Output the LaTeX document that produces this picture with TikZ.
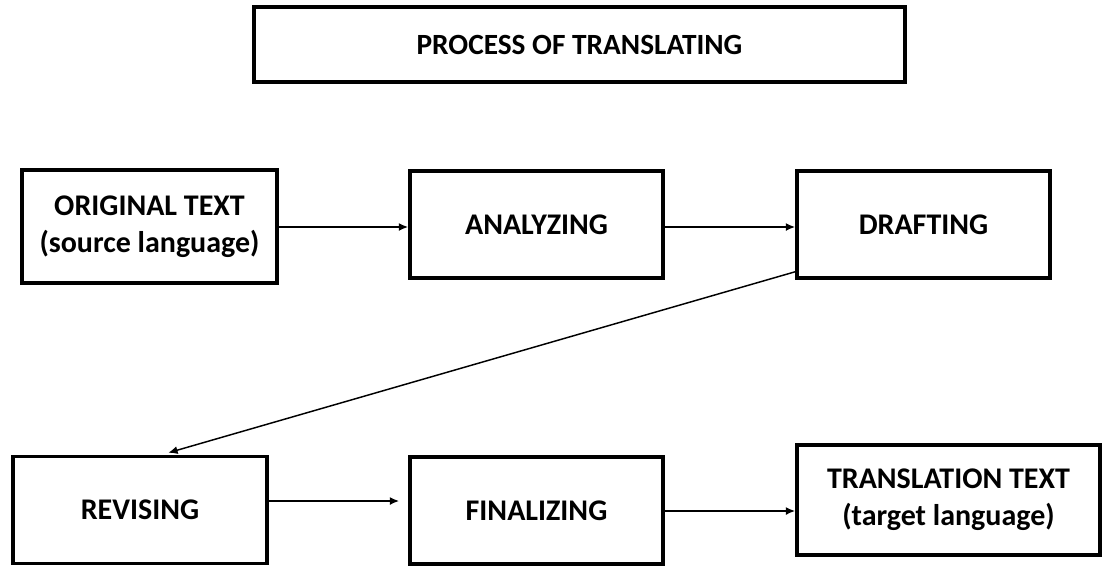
\documentclass[tikz,border=0pt]{standalone}
\usepackage{fontspec}
\setmainfont{Carlito}
\usetikzlibrary{arrows.meta,calc}
\begin{document}
\begin{tikzpicture}[x=0.75pt,y=-0.75pt,
  box/.style={draw=black,line width=2.6pt,rectangle,inner sep=0pt,align=center,
    font=\bfseries\fontsize{22.5}{28}\selectfont},
  conn/.style={line width=1.5pt,-{Latex[length=7pt,width=6pt]}},
  thinconn/.style={line width=1.1pt,-{Latex[length=7pt,width=6pt]}}]
\path[use as bounding box,fill=white] (0,0) rectangle (1105,565);
\node[box,font=\bfseries\fontsize{22}{26}\selectfont,minimum width=651*0.75pt,minimum height=75*0.75pt] (title) at (579.5,44.5) {PROCESS OF TRANSLATING};
\node[box,minimum width=255*0.75pt,minimum height=113*0.75pt] (orig) at (149.5,226.5) {ORIGINAL TEXT\\(source language)};
\node[box,minimum width=253*0.75pt,minimum height=107*0.75pt] (anal) at (536.5,224.5) {ANALYZING};
\node[box,minimum width=253*0.75pt,minimum height=107*0.75pt] (draft) at (923.5,224.5) {DRAFTING};
\node[box,minimum width=254*0.75pt,minimum height=107*0.75pt] (rev) at (140,510) {REVISING};
\node[box,minimum width=253*0.75pt,minimum height=107*0.75pt] (fin) at (536.5,510.5) {FINALIZING};
\node[box,minimum width=303*0.75pt,minimum height=110*0.75pt] (trans) at (948.5,500) {TRANSLATION TEXT\\(target language)};
\coordinate (a1s) at (orig.east |- 0,227);
\coordinate (a1e) at (anal.west |- 0,227);
\draw[conn] (a1s) -- (a1e);
\coordinate (a2s) at (anal.east |- 0,227);
\coordinate (a2e) at (draft.west |- 0,227);
\draw[conn] (a2s) -- (a2e);
\coordinate (dgs) at ($(draft.south west)+(0,-8)$);
\coordinate (dge) at ($(rev.north west)+(157,-2)$);
\draw[thinconn] (dgs) -- (dge);
\coordinate (a3s) at (rev.east |- 0,501);
\coordinate (a3e) at ($(fin.west |- 0,501)+(-9,0)$);
\draw[conn] (a3s) -- (a3e);
\coordinate (a4s) at (fin.east |- 0,511);
\coordinate (a4e) at (trans.west |- 0,511);
\draw[conn] (a4s) -- (a4e);
\end{tikzpicture}
\end{document}
